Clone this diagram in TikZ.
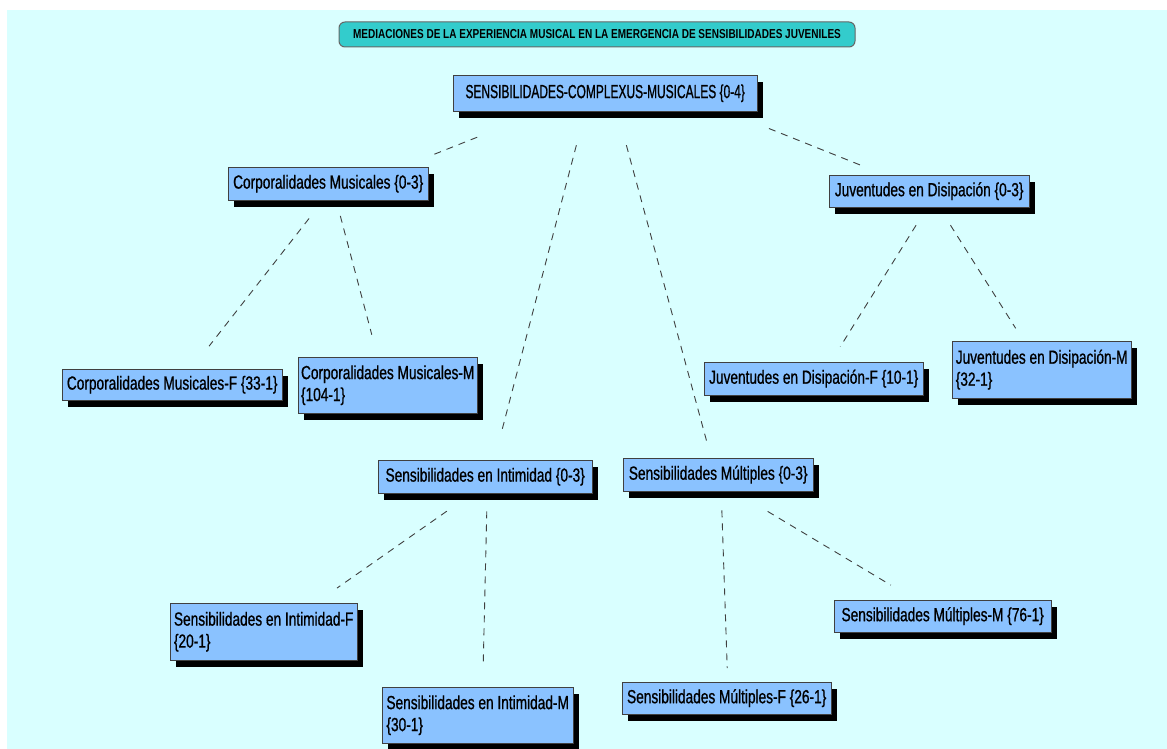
\documentclass[tikz,border=0pt]{standalone}
\usepackage{fontspec}
\setmainfont[FakeStretch=0.72, FakeBold=0.8]{Liberation Sans}
\newfontfamily\capsfont[FakeStretch=0.63, FakeBold=0.8]{Liberation Sans}
\newfontfamily\titlefont[FakeStretch=0.77]{Liberation Sans}
\usetikzlibrary{shadows}
\definecolor{bgcyan}{RGB}{217,255,255}
\definecolor{boxblue}{RGB}{138,194,255}
\definecolor{titleteal}{RGB}{51,204,204}

\begin{document}
\begin{tikzpicture}[x=1pt, y=-1pt,
    concept/.style={draw=black!75, fill=boxblue, anchor=north west, inner sep=2pt, align=left,
        font=\fontsize{19}{22}\selectfont,
        drop shadow={shadow xshift=6pt, shadow yshift=-7pt, fill=black, opacity=1}},
    link/.style={draw=black!75, dash pattern=on 7pt off 6pt, line width=0.9pt}]

        \fill[white] (0,0) rectangle (1167,749);
        \fill[bgcyan] (7,10) rectangle (1167,749);

        % title
        \node[draw=black!60, fill=titleteal, rounded corners=6pt, line width=1pt,
              minimum width=516pt, minimum height=25pt, inner sep=0pt,
              font=\titlefont\bfseries\fontsize{13}{15}\selectfont] (title) at (597,34.5)
              {MEDIACIONES DE LA EXPERIENCIA MUSICAL EN LA EMERGENCIA DE SENSIBILIDADES JUVENILES};

        \node[concept, minimum width=304pt, minimum height=36pt, font=\capsfont\fontsize{19}{22}\selectfont] (root) at (453,75)
              {SENSIBILIDADES-COMPLEXUS-MUSICALES \{0-4\}};

        \node[concept, minimum width=200pt, minimum height=33pt] (corp) at (228,167) {Corporalidades Musicales \{0-3\}};
        \node[concept, minimum width=200pt, minimum height=32pt] (juv) at (829,175) {Juventudes en Disipación \{0-3\}};
        \node[concept, minimum width=214pt, minimum height=33pt] (intim) at (378,460) {Sensibilidades en Intimidad \{0-3\}};
        \node[concept, minimum width=190pt, minimum height=33pt] (mult) at (623,458) {Sensibilidades Múltiples \{0-3\}};

        \node[concept, minimum width=220pt, minimum height=31pt] (corpF) at (62,369) {Corporalidades Musicales-F \{33-1\}};
        \node[concept, minimum width=179pt, minimum height=56pt] (corpM) at (298,357) {Corporalidades Musicales-M\\\{104-1\}};
        \node[concept, minimum width=219pt, minimum height=33pt] (juvF) at (704,362) {Juventudes en Disipación-F \{10-1\}};
        \node[concept, minimum width=179pt, minimum height=57pt] (juvM) at (952,341) {Juventudes en Disipación-M\\\{32-1\}};
        \node[concept, minimum width=187pt, minimum height=57pt] (intF) at (170,603) {Sensibilidades en Intimidad-F\\\{20-1\}};
        \node[concept, minimum width=191pt, minimum height=56pt] (intM) at (382,687) {Sensibilidades en Intimidad-M\\\{30-1\}};
        \node[concept, minimum width=217pt, minimum height=32pt] (multM) at (834,600) {Sensibilidades Múltiples-M \{76-1\}};
        \node[concept, minimum width=209pt, minimum height=32pt] (multF) at (622,682) {Sensibilidades Múltiples-F \{26-1\}};

        % links
        \draw[link, shorten <=70pt, shorten >=32pt] ([xshift=-63pt]root.south) -- ([xshift=74pt]corp.north);
        \draw[link, shorten <=35pt, shorten >=31pt] ([xshift=-20pt]root.south) -- ([xshift=9pt]intim.north);
        \draw[link, shorten <=35pt, shorten >=14pt] ([xshift=12pt]root.south) -- ([xshift=-7pt]mult.north);
        \draw[link, shorten <=46pt, shorten >=27pt] ([xshift=121pt]root.south) -- ([xshift=-44pt]juv.north);

        \draw[link, shorten <=23pt, shorten >=29pt] ([xshift=-5pt]corp.south) -- ([xshift=19pt]corpF.north);
        \draw[link, shorten <=16pt, shorten >=23pt] ([xshift=8pt]corp.south) -- ([xshift=-10pt]corpM.north);

        \draw[link, shorten <=21pt, shorten >=18pt] ([xshift=-2pt]juv.south) -- ([xshift=17pt]juvF.north);
        \draw[link, shorten <=21pt, shorten >=15pt] ([xshift=10pt]juv.south) -- ([xshift=-18pt]juvM.north);

        \draw[link, shorten <=31pt, shorten >=26pt] ([xshift=-13pt]intim.south) -- ([xshift=52pt]intF.north);
        \draw[link, shorten <=18pt, shorten >=20pt] ([xshift=2pt]intim.south) -- ([xshift=5pt]intM.north);

        \draw[link, shorten <=19pt, shorten >=14pt] ([xshift=3pt]mult.south) -- ([xshift=1pt]multF.north);
        \draw[link, shorten <=39pt, shorten >=29pt] ([xshift=16pt]mult.south) -- ([xshift=-27pt]multM.north);

\end{tikzpicture}
\end{document}
